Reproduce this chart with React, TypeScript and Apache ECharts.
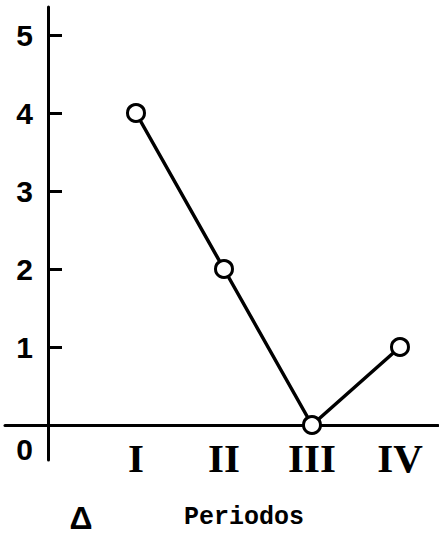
import React, { useEffect, useRef } from "react";
import * as echarts from "echarts";

const categories = ["I", "II", "III", "IV"];
const values = [4, 2, 0, 1];
const yTickValues = [0, 1, 2, 3, 4, 5];
const xTitle = "Periodos";
const cornerMark = "Δ";

export default function App() {
  const ref = useRef<HTMLDivElement>(null);
  useEffect(() => {
    document.body.style.margin = "0";
    const chart = echarts.init(ref.current!, null, { renderer: "svg" });
    const axisLineStyle = { color: "#000", width: 3 };
    chart.setOption({
      animation: false,
      backgroundColor: "#ffffff",
      grid: [
        { left: 48, right: 1, top: 7, bottom: 112, containLabel: false, outerBoundsMode: "none" },
        { left: 5, right: 1, top: 7, bottom: 77, containLabel: false, outerBoundsMode: "none" },
      ],
      xAxis: [
        {
          gridIndex: 0,
          type: "value",
          min: 0,
          max: 4.432,
          axisLine: { show: false },
          axisTick: { show: false },
          splitLine: { show: false },
          axisLabel: {
            customValues: categories.map((_, i) => i + 1),
            formatter: (v: number) => categories[Math.round(v) - 1] ?? "",
            color: "#000",
            fontFamily: "Liberation Serif",
            fontWeight: "bold",
            fontSize: 41,
            lineHeight: 41,
            margin: 12,
          },
        },
        {
          gridIndex: 1,
          type: "value",
          min: -0.489,
          max: 4.432,
          axisLine: { show: true, onZero: true, lineStyle: axisLineStyle },
          axisTick: { show: false },
          axisLabel: { show: false },
          splitLine: { show: false },
        },
      ],
      yAxis: [
        {
          gridIndex: 0,
          type: "value",
          min: 0,
          max: 5.359,
          axisLine: { show: false },
          axisTick: {
            show: true,
            customValues: yTickValues.filter((v) => v > 0),
            inside: true,
            length: 14,
            lineStyle: { color: "#000", width: 3 },
          },
          splitLine: { show: false },
          axisLabel: {
            customValues: yTickValues,
            formatter: (v: number) => (v === 0 ? "{z|0}" : String(v)),
            color: "#000",
            fontFamily: "Liberation Sans",
            fontWeight: "bold",
            fontSize: 30,
            margin: 15,
            rich: {
              z: {
                color: "#000",
                fontFamily: "Liberation Sans",
                fontWeight: "bold",
                fontSize: 30,
                padding: [48, 0, 0, 0],
              },
            },
          },
        },
        {
          gridIndex: 1,
          type: "value",
          min: -0.449,
          max: 5.359,
          axisLine: { show: true, onZero: true, lineStyle: axisLineStyle },
          axisTick: { show: false },
          axisLabel: { show: false },
          splitLine: { show: false },
        },
      ],
      series: [
        {
          type: "line",
          xAxisIndex: 0,
          yAxisIndex: 0,
          data: values.map((v, i) => [i + 1, v]),
          symbol: "circle",
          symbolSize: 17,
          clip: false,
          lineStyle: { color: "#000", width: 3.5 },
          itemStyle: { color: "#fff", borderColor: "#000", borderWidth: 3 },
          z: 5,
        },
      ],
      graphic: [
        {
          type: "text",
          x: 244,
          y: 517,
          style: {
            text: xTitle,
            fontFamily: "Liberation Mono",
            fontWeight: "bold",
            fontSize: 25,
            fill: "#000",
            align: "center",
            verticalAlign: "middle",
          },
        },
        {
          type: "text",
          x: 81,
          y: 518,
          style: {
            text: cornerMark,
            fontFamily: "Liberation Sans",
            fontWeight: "bold",
            fontSize: 32,
            fill: "#000",
            align: "center",
            verticalAlign: "middle",
          },
        },
      ],
    });
    return () => chart.dispose();
  }, []);
  return (
    <div
      ref={ref}
      style={{ position: "fixed", left: 0, top: 0, width: 439, height: 537 }}
    />
  );
}
